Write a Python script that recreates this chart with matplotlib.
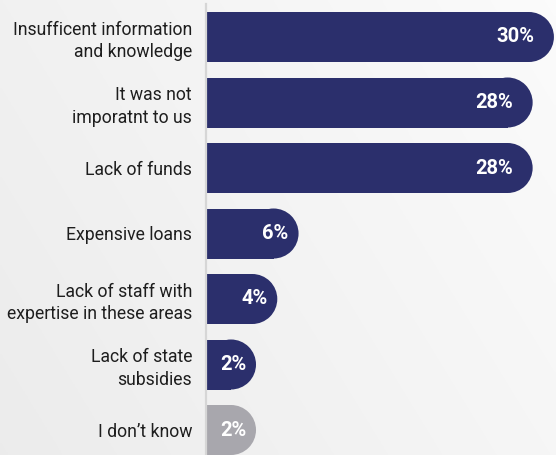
import numpy as np
import matplotlib
matplotlib.use("Agg")
import matplotlib.pyplot as plt
from matplotlib.patches import Ellipse

# Survey answers: reasons for not investing
categories = [
    "Insufficent information\nand knowledge",
    "It was not\nimporatnt to us",
    "Lack of funds",
    "Expensive loans",
    "Lack of staff with\nexpertise in these areas",
    "Lack of state\nsubsidies",
    "I don\u2019t know",
]
values = [30, 28, 28, 6, 4, 2, 2]
value_labels = ["30%", "28%", "28%", "6%", "4%", "2%", "2%"]

NAVY = "#2b2f6c"
GREY = "#a8a7ad"
bar_colors = [NAVY] * 6 + [GREY]

W, H, DPI = 556, 455, 100
fig = plt.figure(figsize=(W / DPI, H / DPI), dpi=DPI)

# soft light-grey background gradient
bg = fig.add_axes([0, 0, 1, 1], zorder=-10)
xx, yy = np.meshgrid(np.linspace(0, 1, 200), np.linspace(0, 1, 200))
shade = 0.985 - 0.04 * (1 - xx) - 0.02 * yy
bg.imshow(np.dstack([shade] * 3), extent=[0, 1, 0, 1], aspect="auto", origin="upper")
bg.axis("off")

left_px = 206
ax = fig.add_axes([left_px / W, 0, 1 - left_px / W, 1])
ax.patch.set_alpha(0)

px_per_unit = 10.64
xmin = -0.35
xmax = xmin + (W - left_px) / px_per_unit
spacing = 65.5
y_top = -37 / spacing
y_bot = (H - 37) / spacing
ax.set_xlim(xmin, xmax)
ax.set_ylim(y_bot, y_top)

bar_h = 50 / spacing
cap_r = 25 / px_per_unit  # cap radius in x data units (25 px)

y = np.arange(len(values))
ax.barh(y, np.array(values) - xmin, left=xmin, height=bar_h,
        color=bar_colors, linewidth=0)
for yi, v, c in zip(y, values, bar_colors):
    ax.add_patch(Ellipse((v, yi), width=2 * cap_r, height=bar_h,
                         facecolor=c, edgecolor="none"))

for yi, v, lab in zip(y, values, value_labels):
    inset = 20 if len(lab) > 2 else 10
    off_px = 25 - inset
    ax.annotate(lab, xy=(v, yi), xytext=(off_px * 72 / DPI, 0),
                textcoords="offset points", ha="right", va="center",
                color="white", fontsize=14.5, fontweight="bold",
                family=["Roboto", "DejaVu Sans"])

ax.set_yticks(y)
ax.set_yticklabels(categories, fontsize=12.7, family=["Roboto", "DejaVu Sans"],
                   color="#1e1e1e", linespacing=1.3)
ax.tick_params(axis="y", length=0, pad=10)
ax.set_xticks([])

for s in ["top", "right", "bottom"]:
    ax.spines[s].set_visible(False)
ax.spines["left"].set_color("#d6d6d6")
ax.spines["left"].set_linewidth(1.6)
ax.spines["left"].set_bounds(-0.5, y_bot)

fig.savefig("out.png", dpi=DPI)
